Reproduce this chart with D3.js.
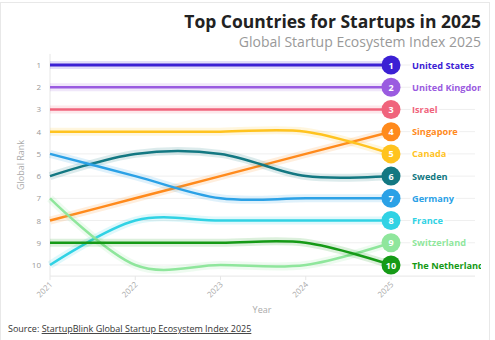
<!DOCTYPE html>
<html>
<head>
<meta charset="utf-8">
<script src="https://cdn.jsdelivr.net/npm/d3@7"></script>
<style>
  body { margin: 0; background: #fff; font-family: "Open Sans", "Noto Sans", sans-serif; }
</style>
</head>
<body>
<svg id="chart" width="495" height="340"></svg>
<script>
const years = [2021, 2022, 2023, 2024, 2025];
const countries = ["United States", "United Kingdom", "Israel", "Singapore", "Canada",
  "Sweden", "Germany", "France", "Switzerland", "The Netherlands"];
const ranks = [
  [1, 1, 1, 1, 1],
  [2, 2, 2, 2, 2],
  [3, 3, 3, 3, 3],
  [8, 7, 6, 5, 4],
  [4, 4, 4, 4, 5],
  [6, 5, 5, 6, 6],
  [5, 6, 7, 7, 7],
  [10, 8, 8, 8, 8],
  [7, 10, 10, 10, 9],
  [9, 9, 9, 9, 10]
];
const colors = ["#3b20d4", "#9a5be0", "#f0647c", "#ff8a1c", "#ffc31f",
  "#137882", "#2ba1e6", "#30d2e4", "#8fe69c", "#159a16"];
const rankTicks = [1, 2, 3, 4, 5, 6, 7, 8, 9, 10];

const svg = d3.select("#chart");

// card border
svg.append("rect")
  .attr("x", 0.5).attr("y", 2.5)
  .attr("width", 489).attr("height", 345)
  .attr("fill", "#fff")
  .attr("stroke", "#e8e8e8");

svg.append("clipPath")
  .attr("id", "card")
  .append("rect")
  .attr("x", 0).attr("y", 0)
  .attr("width", 481).attr("height", 340);

const x = d3.scaleLinear().domain([2021, 2025]).range([50, 391]);
const y = d3.scaleLinear().domain([1, 10]).range([65, 265]);

// title
svg.append("text")
  .attr("x", 481).attr("y", 28)
  .attr("text-anchor", "end")
  .attr("font-size", 17.5).attr("font-weight", 700)
  .attr("fill", "#222")
  .text("Top Countries for Startups in 2025");
svg.append("text")
  .attr("x", 481).attr("y", 47)
  .attr("text-anchor", "end")
  .attr("font-size", 14)
  .attr("fill", "#999")
  .text("Global Startup Ecosystem Index 2025");

// grid lines
svg.append("g")
  .selectAll("line")
  .data(rankTicks)
  .enter()
  .append("line")
  .attr("x1", 50).attr("x2", 475)
  .attr("y1", (d) => y(d)).attr("y2", (d) => y(d))
  .attr("stroke", "#efefef");

// axes lines
svg.append("line")
  .attr("x1", 50).attr("x2", 50)
  .attr("y1", y(0.5)).attr("y2", y(10.5))
  .attr("stroke", "#e6e6e6");
svg.append("line")
  .attr("x1", 50).attr("x2", 475)
  .attr("y1", y(10.5)).attr("y2", y(10.5))
  .attr("stroke", "#e6e6e6");

// y tick labels
svg.append("g")
  .selectAll("text")
  .data(rankTicks)
  .enter()
  .append("text")
  .attr("x", 41).attr("y", (d) => y(d) + 3)
  .attr("text-anchor", "end")
  .attr("font-size", 8)
  .attr("fill", "#999")
  .text((d) => d);

svg.append("text")
  .attr("transform", `translate(24,${y(5.5)}) rotate(-90)`)
  .attr("text-anchor", "middle")
  .attr("font-size", 9)
  .attr("fill", "#aaa")
  .text("Global Rank");

// x ticks
const xTicks = svg.append("g");
xTicks.selectAll("line")
  .data(years)
  .enter()
  .append("line")
  .attr("x1", (d) => x(d)).attr("x2", (d) => x(d))
  .attr("y1", y(10.5)).attr("y2", y(10.5) + 4)
  .attr("stroke", "#e6e6e6");
xTicks.selectAll("text")
  .data(years)
  .enter()
  .append("text")
  .attr("transform", (d) => `translate(${x(d) + 3},${y(10.5) + 9}) rotate(-45)`)
  .attr("text-anchor", "end")
  .attr("font-size", 8)
  .attr("fill", "#aaa")
  .text((d) => d);

svg.append("text")
  .attr("x", 262).attr("y", 313)
  .attr("text-anchor", "middle")
  .attr("font-size", 9)
  .attr("fill", "#aaa")
  .text("Year");

// lines
const line = d3.line()
  .x((d, i) => x(years[i]))
  .y((d) => y(d))
  .curve(d3.curveCardinal.tension(0));

const series = svg.append("g")
  .selectAll("g")
  .data(countries.map((c, i) => ({ name: c, values: ranks[i], color: colors[i] })))
  .enter()
  .append("g");

series.append("path")
  .attr("d", (d) => line(d.values))
  .attr("fill", "none")
  .attr("stroke", (d) => d.color)
  .attr("stroke-opacity", 0.15)
  .attr("stroke-width", 8);

series.append("path")
  .attr("d", (d) => line(d.values))
  .attr("fill", "none")
  .attr("stroke", (d) => d.color)
  .attr("stroke-width", (d, i) => (i === 0 ? 3 : 2.5));

// end markers
const last = years.length - 1;
series.append("circle")
  .attr("cx", x(years[last]))
  .attr("cy", (d) => y(d.values[last]))
  .attr("r", 9.5)
  .attr("fill", (d) => d.color);

series.append("text")
  .attr("x", x(years[last]))
  .attr("y", (d) => y(d.values[last]) + 3.5)
  .attr("text-anchor", "middle")
  .attr("font-size", 9).attr("font-weight", 700)
  .attr("fill", "#fff")
  .text((d) => d.values[last]);

series.append("text")
  .attr("x", 412)
  .attr("y", (d) => y(d.values[last]) + 3.5)
  .attr("clip-path", "url(#card)")
  .attr("font-size", 9.2).attr("font-weight", 700)
  .attr("fill", (d) => d.color)
  .attr("stroke", "#fff").attr("stroke-width", 4)
  .attr("paint-order", "stroke")
  .text((d) => d.name);

// source
const source = svg.append("text")
  .attr("x", 8).attr("y", 332)
  .attr("font-size", 9)
  .attr("fill", "#333");
source.append("tspan").text("Source: ");
source.append("tspan")
  .attr("text-decoration", "underline")
  .text("StartupBlink Global Startup Ecosystem Index 2025");
</script>
</body>
</html>
